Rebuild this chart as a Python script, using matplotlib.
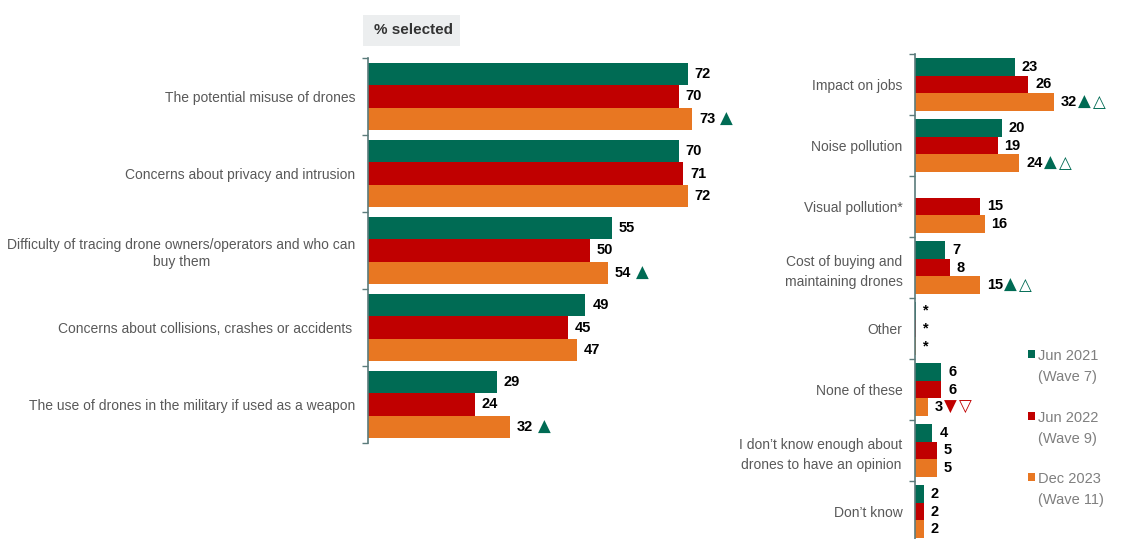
import numpy as np
import matplotlib
matplotlib.use("Agg")
import matplotlib.pyplot as plt
from matplotlib.patches import Rectangle

plt.rcParams['font.family'] = ['Liberation Sans Narrow', 'Liberation Sans', 'DejaVu Sans']

# ---------------- data ----------------
series_names = ["Jun 2021\n(Wave 7)", "Jun 2022\n(Wave 9)", "Dec 2023\n(Wave 11)"]
colors = ["#006B54", "#C00000", "#E87722"]

left_cats = [
    "The potential misuse of drones",
    "Concerns about privacy and intrusion",
    "Difficulty of tracing drone owners/operators and who can\nbuy them",
    "Concerns about collisions, crashes or accidents ",
    "The use of drones in the military if used as a weapon",
]
left_jun21 = [72, 70, 55, 49, 29]
left_jun22 = [70, 71, 50, 45, 24]
left_dec23 = [73, 72, 54, 47, 32]
left_marks = ["▲", "", "▲", "", "▲"]

right_cats = [
    "Impact on jobs",
    "Noise pollution",
    "Visual pollution*",
    "Cost of buying and\nmaintaining drones",
    "Other",
    "None of these",
    "I don’t know enough about\ndrones to have an opinion",
    "Don’t know",
]
# np.nan = not asked; 0.3 = less than 0.5% (shown as "*")
right_jun21 = [23, 20, np.nan, 7, 0.3, 6, 4, 2]
right_jun22 = [26, 19, 15, 8, 0.3, 6, 5, 2]
right_dec23 = [32, 24, 16, 15, 0.3, 3, 5, 2]
right_marks = ["▲△", "▲△", "", "▲△", "", "▼▽", "", ""]

W, H = 1144, 539
fig = plt.figure(figsize=(W / 100, H / 100), dpi=100)

SPINE = "#5B7B7B"
LABEL_C = "#595959"


def draw_panel(ax, cats, series, xmax, lsp):
    n = len(cats)
    bh = 0.29
    off = [0.065 + bh / 2, 0.065 + bh * 1.5, 0.065 + bh * 2.5]
    idx = np.arange(n)
    dec_texts = []
    for s, (vals, col) in enumerate(zip(series, colors)):
        vals = np.array(vals, dtype=float)
        ys = idx + off[s]
        ax.barh(ys, np.nan_to_num(vals), height=bh, color=col, linewidth=0)
        for y, v in zip(ys, vals):
            if np.isnan(v):
                continue
            lab = "*" if v < 0.5 else f"{v:.0f}"
            t = ax.annotate(lab, (v, y), xytext=(5, 0), textcoords="offset points",
                            ha="left", va="center", fontsize=10.5, fontweight="bold",
                            color="black")
            if s == 2:
                dec_texts.append(t)
    ax.set_xlim(0, xmax)
    ax.set_ylim(n, 0)
    ax.set_yticks(np.arange(n + 1))
    ax.set_yticklabels([])
    ax.set_yticks(idx + 0.5, cats, minor=True)
    ax.tick_params(axis="y", which="major", length=4, width=1, color=SPINE, direction="out")
    ax.tick_params(axis="y", which="minor", length=0, pad=9, labelsize=10, labelcolor=LABEL_C)
    for lab in ax.get_yticklabels(minor=True):
        lab.set_multialignment("center")
        lab.set_linespacing(lsp)
    ax.set_xticks([])
    for sp in ["top", "right", "bottom"]:
        ax.spines[sp].set_visible(False)
    ax.spines["left"].set_color(SPINE)
    ax.spines["left"].set_linewidth(1.2)
    ax.patch.set_visible(False)
    return dec_texts


axL = fig.add_axes([368 / W, 1 - 443 / H, 355 / W, (443 - 58) / H])
tL = draw_panel(axL, left_cats, [left_jun21, left_jun22, left_dec23], 80, 1.3)

axR = fig.add_axes([915 / W, 1 - 542 / H, 217.5 / W, (542 - 54) / H])
tR = draw_panel(axR, right_cats, [right_jun21, right_jun22, right_dec23], 50, 1.55)

fig.canvas.draw()
renderer = fig.canvas.get_renderer()


def add_marks(texts, marks, gap, step):
    for t, m in zip(texts, marks):
        if not m:
            continue
        bb = t.get_window_extent(renderer)
        x0 = bb.x1 + gap
        yc = (bb.y0 + bb.y1) / 2
        col = "#006B54" if m[0] in "▲△" else "#C00000"
        for k, ch in enumerate(m):
            fig.text((x0 + k * step) / W, yc / H, ch, ha="left", va="center",
                     fontsize=12, color=col, family="DejaVu Sans")


add_marks(tL, left_marks, 5, 15)
add_marks(tR, right_marks, 1, 15)

# "% selected" header box
fig.patches.append(Rectangle((363 / W, 1 - 46 / H), 97 / W, 31 / H, transform=fig.transFigure,
                             facecolor="#ECEEEF", edgecolor="none"))
fig.text(374 / W, 1 - 30 / H, "% selected", ha="left", va="center", fontsize=11,
         fontweight="bold", color="#333333")

# Legend
leg_y = [350, 412, 473]
for name, col, y in zip(series_names, colors, leg_y):
    fig.patches.append(Rectangle((1028 / W, 1 - (y + 8) / H), 7 / W, 8 / H,
                                 transform=fig.transFigure, facecolor=col, edgecolor="none"))
    fig.text(1038 / W, 1 - (y - 1) / H, name, ha="left", va="top", fontsize=10.5,
             color="#7F7F7F", linespacing=1.6)

fig.savefig("out.png", dpi=100)
